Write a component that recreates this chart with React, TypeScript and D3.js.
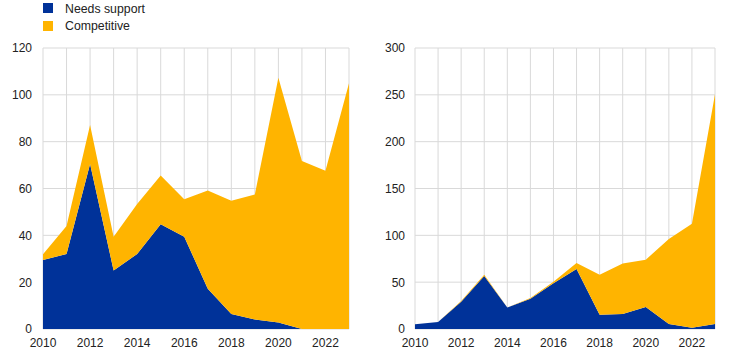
import React from "react";
import * as d3 from "d3";

const years = [2010, 2011, 2012, 2013, 2014, 2015, 2016, 2017, 2018, 2019, 2020, 2021, 2022, 2023];
const leftNeeds = [29.5, 32, 70.5, 25, 32, 44.7, 39.4, 17.2, 6.4, 4.1, 2.8, 0, 0, 0];
const leftTotal = [31.9, 44, 87.1, 39.4, 53.4, 65.5, 55.4, 59.1, 54.8, 57.4, 107.3, 71.7, 67.6, 104.9];
const rightNeeds = [5, 7.5, 29, 56.6, 23, 32.4, 48.8, 64, 15.3, 16, 23.5, 5.3, 1.4, 5.3];
const rightTotal = [5, 7.5, 30, 58, 23, 33, 50.5, 70.5, 58, 70, 74, 96, 112.5, 250.5];
const leftCompetitive = leftTotal.map((t, i) => +(t - leftNeeds[i]).toFixed(1));
const rightCompetitive = rightTotal.map((t, i) => +(t - rightNeeds[i]).toFixed(1));
const leftTicks = [0, 20, 40, 60, 80, 100, 120];
const rightTicks = [0, 50, 100, 150, 200, 250, 300];
const xTickYears = [2010, 2012, 2014, 2016, 2018, 2020, 2022];
const seriesNames = ["Needs support", "Competitive"];
const colors = ["#003299", "#FFB400"];
const FONT = "Arial, 'Liberation Sans', sans-serif";

type PanelProps = {
  x0: number; x1: number; y0: number; y1: number;
  needs: number[]; comp: number[]; ticks: number[]; max: number; labelX: number;
};

function Panel({ x0, x1, y0, y1, needs, comp, ticks, max, labelX }: PanelProps) {
  const x = d3.scaleLinear().domain([2010, 2023]).range([x0, x1]);
  const y = d3.scaleLinear().domain([0, max]).range([y1, y0]);
  const rows = years.map((yr, i) => ({ year: yr, needs: needs[i], comp: comp[i] }));
  const stack = d3.stack<any>().keys(["needs", "comp"])(rows);
  const area = d3.area<any>()
    .x((d) => x(d.data.year))
    .y0((d) => y(d[0]))
    .y1((d) => y(d[1]));
  return (
    <g>
      {years.map((yr) => (
        <line key={"v" + yr} x1={x(yr)} x2={x(yr)} y1={y0} y2={y1} stroke="#d9d9d9" strokeWidth={1} />
      ))}
      {ticks.map((t) => (
        <line key={"h" + t} x1={x0} x2={x1} y1={y(t)} y2={y(t)} stroke="#d9d9d9" strokeWidth={1} />
      ))}
      {stack.map((s, i) => (
        <path key={i} d={area(s) || ""} fill={colors[i]} />
      ))}
      {ticks.map((t) => (
        <text key={"yl" + t} x={labelX} y={y(t)} dy="0.37em" textAnchor="end" fontSize={12} fontFamily={FONT} fill="#222">
          {t}
        </text>
      ))}
      {xTickYears.map((yr) => (
        <text key={"xl" + yr} x={x(yr)} y={347} textAnchor="middle" fontSize={12} fontFamily={FONT} fill="#222">
          {yr}
        </text>
      ))}
    </g>
  );
}

export default function App() {
  return (
    <svg width={744} height={356} style={{ position: "absolute", left: 0, top: 0, background: "#fff" }}>
      {seriesNames.map((n, i) => (
        <g key={n}>
          <rect x={43} y={3 + i * 18} width={10} height={10} fill={colors[i]} />
          <text x={65} y={13 + i * 17} fontSize={12.3} fontFamily={FONT} fill="#222">{n}</text>
        </g>
      ))}
      <Panel x0={43} x1={349} y0={48} y1={329} needs={leftNeeds} comp={leftCompetitive} ticks={leftTicks} max={120} labelX={32} />
      <Panel x0={415} x1={715} y0={48} y1={329} needs={rightNeeds} comp={rightCompetitive} ticks={rightTicks} max={300} labelX={405} />
    </svg>
  );
}
